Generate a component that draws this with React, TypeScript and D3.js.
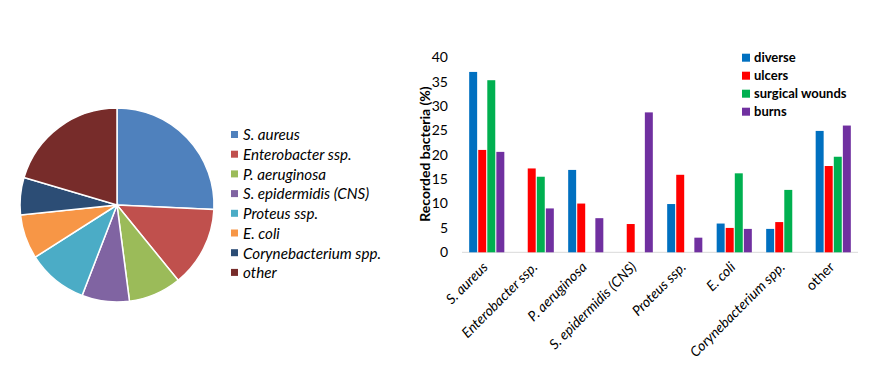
import React from "react";
import * as d3 from "d3";

const pieLabels = ["S. aureus", "Enterobacter ssp.", "P. aeruginosa", "S. epidermidis (CNS)", "Proteus ssp.", "E. coli", "Corynebacterium spp.", "other"];
const pieValues = [25.7, 13.4, 8.8, 7.9, 10.1, 7.4, 6.2, 20.4];
const pieColors = ["#4F81BD", "#C0504D", "#9BBB59", "#8064A2", "#4BACC6", "#F79646", "#2C4D75", "#772C2A"];

const categories = ["S. aureus", "Enterobacter ssp.", "P. aeruginosa", "S. epidermidis (CNS)", "Proteus ssp.", "E. coli", "Corynebacterium spp.", "other"];
const seriesNames = ["diverse", "ulcers", "surgical wounds", "burns"];
const seriesColors = ["#0070C0", "#FF0000", "#00B050", "#7030A0"];
const diverse = [37, 0, 16.9, 0, 9.9, 5.9, 4.8, 24.9];
const ulcers = [21.0, 17.2, 10.0, 5.8, 15.9, 5.0, 6.2, 17.7];
const surgical = [35.3, 15.5, 0, 0, 0, 16.2, 12.8, 19.6];
const burns = [20.6, 9.0, 7.0, 28.7, 3.0, 4.8, 0, 26.0];
const seriesValues = [diverse, ulcers, surgical, burns];
const yTicks = [0, 5, 10, 15, 20, 25, 30, 35, 40];

const FONT = "Lato, 'Open Sans', sans-serif";

export default function App() {
  const cx = 117, cy = 205, r = 97;
  const pie = d3.pie<number>().sort(null).value((d) => d)(pieValues);
  const arc = d3.arc<d3.PieArcDatum<number>>().innerRadius(0).outerRadius(r);

  const x0 = d3.scaleBand<string>().domain(categories).range([462, 858]).paddingInner(0.29).paddingOuter(0.145);
  const x1 = d3.scaleBand<string>().domain(seriesNames).range([0, x0.bandwidth()]).paddingInner(0.12);
  const y = d3.scaleLinear().domain([0, 40]).range([252.3, 57.3]);

  return (
    <svg width={885} height={379} style={{ position: "absolute", left: 0, top: 0, background: "#fff" }} fontFamily={FONT}>
      <rect width={885} height={379} fill="#fff" />
      {/* Pie */}
      <g transform={`translate(${cx},${cy})`}>
        {pie.map((d, i) => (
          <path key={i} d={arc(d) || ""} fill={pieColors[i]} stroke="#fff" strokeWidth={1.5} />
        ))}
      </g>
      {/* Pie legend */}
      <g>
        {pieLabels.map((l, i) => {
          const yy = 135 + i * 19.7;
          return (
            <g key={l}>
              <rect x={231} y={yy - 4} width={7} height={7} fill={pieColors[i]} />
              <text x={243} y={yy} dy="0.35em" fontSize={15.2} fontStyle="italic" fill="#000">{l}</text>
            </g>
          );
        })}
      </g>
      {/* Bar chart */}
      <line x1={462} x2={858} y1={y(0)} y2={y(0)} stroke="#D9D9D9" strokeWidth={1} />
      {yTicks.map((t) => (
        <text key={t} x={448} y={y(t)} dy="0.35em" textAnchor="end" fontSize={14} fill="#000">{t}</text>
      ))}
      <text transform={`translate(425,154) rotate(-90)`} textAnchor="middle" dy="0.35em" fontSize={14} fontWeight="bold" fill="#000">Recorded bacteria (%)</text>
      {categories.map((c, ci) => (
        <g key={c} transform={`translate(${x0(c)},0)`}>
          {seriesNames.map((s, si) => {
            const v = seriesValues[si][ci];
            if (!v) return null;
            return <rect key={s} x={x1(s)} y={y(v)} width={x1.bandwidth()} height={y(0) - y(v)} fill={seriesColors[si]} />;
          })}
        </g>
      ))}
      {categories.map((c) => {
        const xc = (x0(c) || 0) + x0.bandwidth() / 2;
        return (
          <text key={c} transform={`translate(${xc + 2},${268}) rotate(-45)`} textAnchor="end" fontSize={14} fontStyle={c === "other" ? "normal" : "italic"} fill="#000">{c}</text>
        );
      })}
      {/* Bar legend */}
      {seriesNames.map((s, i) => {
        const yy = 57.7 + i * 18;
        return (
          <g key={s}>
            <rect x={742} y={yy - 4} width={8} height={8} fill={seriesColors[i]} />
            <text x={754} y={yy} dy="0.35em" fontSize={13} fontWeight="bold" fill="#000">{s}</text>
          </g>
        );
      })}
    </svg>
  );
}
